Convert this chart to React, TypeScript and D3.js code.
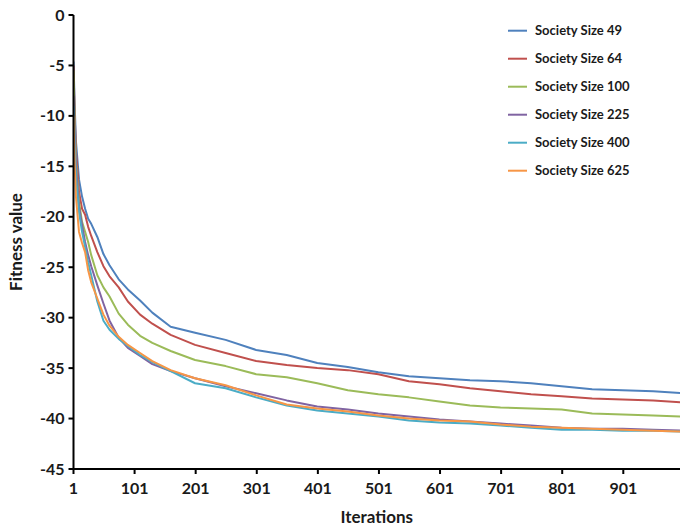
import React from "react";
import * as d3 from "d3";

const iterations = [1, 3, 5, 10, 15, 20, 25, 30, 40, 50, 60, 75, 90, 110, 130, 160, 200, 250, 300, 350, 400, 450, 500, 550, 600, 650, 700, 750, 800, 850, 900, 950, 1000];

const size49 = [-4.6, -9, -12.5, -16.3, -18.0, -19.2, -20.2, -20.7, -22.0, -23.7, -24.8, -26.2, -27.2, -28.3, -29.5, -30.9, -31.5, -32.2, -33.2, -33.7, -34.5, -34.9, -35.4, -35.8, -36.0, -36.2, -36.3, -36.5, -36.8, -37.1, -37.2, -37.3, -37.5];
const size64 = [-5.0, -10, -13.5, -17.5, -19.2, -19.8, -21.0, -21.9, -23.5, -24.9, -25.9, -27.0, -28.4, -29.7, -30.6, -31.7, -32.7, -33.5, -34.3, -34.7, -35.0, -35.2, -35.6, -36.3, -36.6, -37.0, -37.3, -37.6, -37.8, -38.0, -38.1, -38.2, -38.4];
const size100 = [-5.5, -11, -14.5, -18.5, -20.5, -21.5, -22.5, -23.8, -25.8, -27.0, -27.9, -29.6, -30.7, -31.8, -32.5, -33.3, -34.2, -34.8, -35.6, -35.9, -36.5, -37.2, -37.6, -37.9, -38.3, -38.7, -38.9, -39.0, -39.1, -39.5, -39.6, -39.7, -39.8];
const size225 = [-8.0, -12, -15, -19, -20.8, -22.5, -23.8, -24.9, -26.8, -28.6, -30.3, -32.0, -33.0, -33.8, -34.6, -35.3, -36.0, -36.8, -37.5, -38.2, -38.8, -39.1, -39.5, -39.8, -40.1, -40.3, -40.5, -40.7, -40.9, -41.0, -41.0, -41.1, -41.2];
const size400 = [-9.0, -13, -16, -19.5, -21.5, -23, -24.5, -25.8, -28.4, -30.3, -31.2, -32.1, -32.8, -33.7, -34.4, -35.3, -36.5, -37.0, -37.9, -38.7, -39.2, -39.5, -39.8, -40.2, -40.4, -40.5, -40.7, -40.9, -41.1, -41.1, -41.2, -41.2, -41.3];
const size625 = [-10.0, -15, -18, -21.5, -22.6, -23.5, -25.3, -26.5, -28.1, -29.7, -30.8, -31.9, -32.7, -33.5, -34.3, -35.2, -36.0, -36.7, -37.7, -38.6, -39.0, -39.3, -39.7, -40.0, -40.2, -40.3, -40.6, -40.8, -40.9, -41.0, -41.1, -41.2, -41.3];

const seriesNames = ["Society Size 49", "Society Size 64", "Society Size 100", "Society Size 225", "Society Size 400", "Society Size 625"];
const seriesValues = [size49, size64, size100, size225, size400, size625];
const seriesColors = ["#4F81BD", "#C0504D", "#9BBB59", "#8064A2", "#4BACC6", "#F79646"];

const xTicks = [1, 101, 201, 301, 401, 501, 601, 701, 801, 901];
const yTicks = [0, -5, -10, -15, -20, -25, -30, -35, -40, -45];

const W = 680;
const H = 527;
const FONT = "Lato, 'Open Sans', sans-serif";

export default function App() {
  const x = d3.scaleLinear().domain([1, 901]).range([73.5, 623.3]);
  const y = d3.scaleLinear().domain([0, -45]).range([15, 469]);
  const line = d3
    .line<number>()
    .x((_, i) => x(iterations[i]))
    .y((d) => y(d));

  const x0 = x(1);
  const y0 = y(-45);

  return (
    <svg width={W} height={H} style={{ position: "absolute", left: 0, top: 0, background: "#fff" }}>
      <rect width={W} height={H} fill="#fff" />
      <defs>
        <clipPath id="plot">
          <rect x={x0} y={0} width={W - x0} height={y0} />
        </clipPath>
      </defs>
      <g clipPath="url(#plot)">
        {seriesValues.map((vals, k) => (
          <path key={k} d={line(vals) || ""} fill="none" stroke={seriesColors[k]} strokeWidth={2} strokeLinejoin="round" />
        ))}
      </g>
      {/* y axis */}
      <line x1={x0} x2={x0} y1={y(0)} y2={y0} stroke="#000" strokeWidth={2} />
      {yTicks.map((t) => (
        <g key={t}>
          <line x1={x0 - 5} x2={x0} y1={y(t)} y2={y(t)} stroke="#000" strokeWidth={2} />
          <text x={x0 - 9} y={y(t)} dy="0.35em" textAnchor="end" fontFamily={FONT} fontWeight={700} fontSize={16} fill="#1a1a1a">
            {t}
          </text>
        </g>
      ))}
      {/* x axis */}
      <line x1={x0} x2={W} y1={y0} y2={y0} stroke="#000" strokeWidth={2} />
      {xTicks.map((t) => (
        <g key={t}>
          <line x1={x(t)} x2={x(t)} y1={y0} y2={y0 + 5} stroke="#000" strokeWidth={2} />
          <text x={x(t)} y={488} dy="0.35em" textAnchor="middle" fontFamily={FONT} fontWeight={700} fontSize={16} fill="#1a1a1a">
            {t}
          </text>
        </g>
      ))}
      <text x={(x0 + W) / 2 + 0} y={517} dy="0.35em" textAnchor="middle" fontFamily={FONT} fontWeight={700} fontSize={17} fill="#1a1a1a">
        Iterations
      </text>
      <text
        transform={`translate(16, ${242}) rotate(-90)`}
        textAnchor="middle"
        dy="0.35em"
        fontFamily={FONT}
        fontWeight={700}
        fontSize={17}
        fill="#1a1a1a"
      >
        Fitness value
      </text>
      {/* legend */}
      {seriesNames.map((name, k) => {
        const ly = 30.7 + k * 28;
        return (
          <g key={name}>
            <line x1={508} x2={527} y1={ly} y2={ly} stroke={seriesColors[k]} strokeWidth={2} />
            <text x={535} y={ly} dy="0.35em" fontFamily={FONT} fontWeight={700} fontSize={13} fill="#1a1a1a">
              {name}
            </text>
          </g>
        );
      })}
    </svg>
  );
}
